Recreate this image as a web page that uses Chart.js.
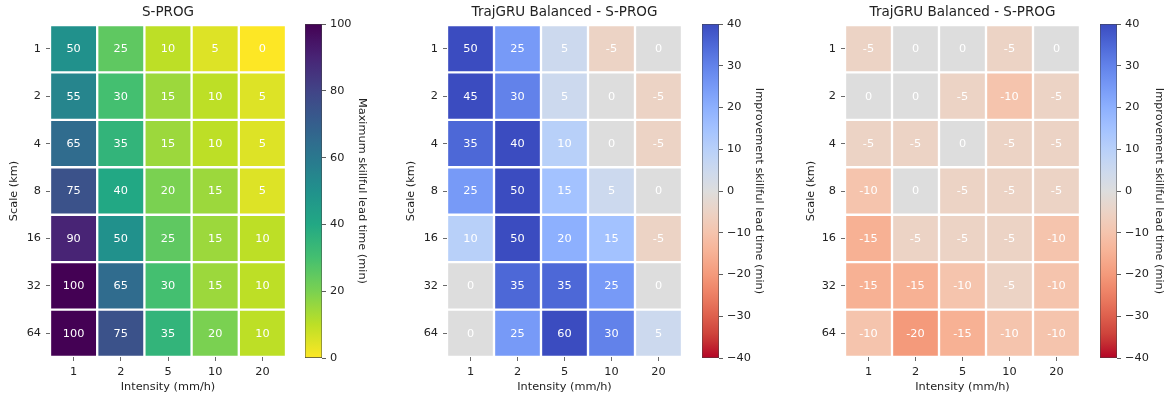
<!DOCTYPE html>
<html>
<head>
<meta charset="utf-8">
<script src="https://cdn.jsdelivr.net/npm/chart.js@4.4.1/dist/chart.umd.min.js"></script>
<style>
  html, body { margin: 0; padding: 0; background: #fff; }
  #wrap { position: relative; width: 1168px; height: 398px; overflow: hidden; }
  canvas { position: absolute; top: 0; }
</style>
</head>
<body>
<div id="wrap">
  <canvas id="hm1"></canvas>
  <canvas id="cb1"></canvas>
  <canvas id="hm2"></canvas>
  <canvas id="cb2"></canvas>
  <canvas id="hm3"></canvas>
  <canvas id="cb3"></canvas>
</div>
<script>
const intensities = ['1', '2', '5', '10', '20'];
const scalesKm = ['1', '2', '4', '8', '16', '32', '64'];

// rows = scale (km), cols = intensity (mm/h)
const sprogLead = [
  [50, 25, 10, 5, 0],
  [55, 30, 15, 10, 5],
  [65, 35, 15, 10, 5],
  [75, 40, 20, 15, 5],
  [90, 50, 25, 15, 10],
  [100, 65, 30, 15, 10],
  [100, 75, 35, 20, 10]
];
const balancedGainA = [
  [50, 25, 5, -5, 0],
  [45, 30, 5, 0, -5],
  [35, 40, 10, 0, -5],
  [25, 50, 15, 5, 0],
  [10, 50, 20, 15, -5],
  [0, 35, 35, 25, 0],
  [0, 25, 60, 30, 5]
];
const balancedGainB = [
  [-5, 0, 0, -5, 0],
  [0, 0, -5, -10, -5],
  [-5, -5, 0, -5, -5],
  [-10, 0, -5, -5, -5],
  [-15, -5, -5, -5, -10],
  [-15, -15, -10, -5, -10],
  [-10, -20, -15, -10, -10]
];
const leadTicks = [0, 20, 40, 60, 80, 100];
const gainTicks = [-40, -30, -20, -10, 0, 10, 20, 30, 40];

const FONT = "'DejaVu Sans', sans-serif";
Chart.defaults.font.family = FONT;
Chart.defaults.color = '#222';

// colormaps
const viridis = ['#440154', '#482475', '#414487', '#355f8d', '#2a788e', '#21918c',
  '#22a884', '#44bf70', '#7ad151', '#bddf26', '#fde725'];
const coolwarm = [
  [59, 76, 192], [77, 104, 215], [98, 130, 234], [119, 154, 247], [141, 176, 254],
  [163, 194, 255], [184, 208, 249], [204, 217, 238], [221, 221, 221], [236, 211, 197],
  [245, 196, 173], [247, 177, 148], [244, 154, 123], [236, 127, 99], [222, 96, 77],
  [203, 62, 56], [180, 4, 38]
];
function hexRgb(h) {
  return [1, 3, 5].map(i => parseInt(h.slice(i, i + 2), 16));
}
const viridisRgb = viridis.map(hexRgb);
function sample(stops, t) {
  t = Math.min(1, Math.max(0, t));
  const f = t * (stops.length - 1);
  const i = Math.min(stops.length - 2, Math.floor(f));
  const k = f - i;
  const c = stops[i].map((v, n) => Math.round(v + (stops[i + 1][n] - v) * k));
  return 'rgb(' + c.join(',') + ')';
}
const leadColor = v => sample(viridisRgb, 1 - v / 100);
const gainColor = v => sample(coolwarm, 1 - (v + 40) / 80);

const cellText = {
  id: 'cellText',
  afterDatasetsDraw(chart) {
    const ctx = chart.ctx;
    ctx.save();
    ctx.font = '11.3px ' + FONT;
    ctx.fillStyle = '#fff';
    ctx.textAlign = 'center';
    ctx.textBaseline = 'middle';
    chart.data.datasets.forEach((ds, d) => {
      chart.getDatasetMeta(d).data.forEach((bar, j) => {
        const p = bar.getProps(['x', 'y', 'base'], true);
        ctx.fillText(String(ds.cellValues[j]), p.x, (p.y + p.base) / 2 + 0.5);
      });
    });
    ctx.restore();
  }
};

const tickFont = { size: 11.3 };

function heatmap(id, left, width, yWidth, title, values, colorOf) {
  const canvas = document.getElementById(id);
  canvas.width = width;
  canvas.height = 398;
  canvas.style.left = left + 'px';
  const datasets = values.map((row, r) => ({
    data: row.map(() => [r - 0.5, r + 0.5]),
    cellValues: row,
    backgroundColor: row.map(colorOf),
    borderColor: '#fff',
    borderWidth: 1.5,
    borderSkipped: false,
    grouped: false,
    barPercentage: 1,
    categoryPercentage: 1
  }));
  new Chart(canvas, {
    type: 'bar',
    data: { labels: intensities, datasets: datasets },
    plugins: [cellText],
    options: {
      responsive: false,
      animation: false,
      events: [],
      layout: { padding: { top: 0, right: 4, bottom: 0, left: 0 } },
      plugins: {
        legend: { display: false },
        tooltip: { enabled: false },
        title: {
          display: true, text: title, color: '#222', fullSize: false,
          font: { size: 13.5, weight: 'normal' },
          padding: { top: 4, bottom: 4.8 }
        }
      },
      scales: {
        x: {
          grid: { drawOnChartArea: false, drawTicks: true, tickLength: 4, offset: false, color: '#444', lineWidth: 0.8 },
          border: { display: false },
          ticks: { font: tickFont, padding: 4, color: '#222' },
          title: { display: true, text: 'Intensity (mm/h)', font: tickFont, color: '#222', padding: { top: 2, bottom: 4.2 } },
          afterFit: s => { s.height = 41; }
        },
        y: {
          reverse: true,
          min: -0.5,
          max: scalesKm.length - 0.5,
          afterBuildTicks: s => { s.ticks = scalesKm.map((_, i) => ({ value: i })); },
          grid: { drawOnChartArea: false, drawTicks: true, tickLength: 4, color: '#444', lineWidth: 0.8 },
          border: { display: false },
          ticks: { font: tickFont, padding: 5, color: '#222', callback: v => scalesKm[v] },
          title: { display: true, text: 'Scale (km)', font: tickFont, color: '#222', padding: { top: 7, bottom: 0 } },
          afterFit: s => { s.width = yWidth; }
        }
      }
    }
  });
}

function colorbar(id, left, label, min, max, ticks, colorOf, titlePad, fmt) {
  const canvas = document.getElementById(id);
  canvas.width = 67;
  canvas.height = 398;
  canvas.style.left = left + 'px';
  new Chart(canvas, {
    type: 'bar',
    data: {
      labels: [''],
      datasets: [{
        data: [[min, max]],
        backgroundColor: (c) => {
          const area = c.chart.chartArea;
          if (!area) return null;
          const g = c.chart.ctx.createLinearGradient(0, area.bottom, 0, area.top);
          for (let i = 0; i <= 40; i++) {
            g.addColorStop(i / 40, colorOf(min + (max - min) * i / 40));
          }
          return g;
        },
        borderColor: '#444',
        borderWidth: 0.8,
        borderSkipped: false,
        barPercentage: 1,
        categoryPercentage: 1
      }]
    },
    options: {
      responsive: false,
      animation: false,
      events: [],
      layout: { padding: { top: 24, right: 0, bottom: 40, left: 0 } },
      plugins: { legend: { display: false }, tooltip: { enabled: false } },
      scales: {
        x: { display: false },
        y: {
          position: 'right',
          min: min,
          max: max,
          afterBuildTicks: s => { s.ticks = ticks.map(v => ({ value: v })); },
          grid: { drawOnChartArea: false, drawTicks: true, tickLength: 4, color: '#333', lineWidth: 0.8 },
          border: { display: false },
          ticks: { font: tickFont, padding: 4, color: '#222', callback: fmt },
          title: { display: true, text: label, font: tickFont, color: '#222', padding: { top: titlePad, bottom: 0 } },
          afterFit: s => { s.width = 50; }
        }
      }
    }
  });
}

const minusFmt = v => (v < 0 ? '\u2212' + Math.abs(v) : String(v));

heatmap('hm1', 0, 290, 50, 'S-PROG', sprogLead, leadColor);
colorbar('cb1', 305, 'Maximum skillful lead time (min)', 0, 100, leadTicks, leadColor, 3, minusFmt);

heatmap('hm2', 397, 289, 50, 'TrajGRU Balanced - S-PROG', balancedGainA, gainColor);
colorbar('cb2', 702, 'Improvement skillful lead time (min)', -40, 40, gainTicks, gainColor, 3, minusFmt);

heatmap('hm3', 797, 287, 48, 'TrajGRU Balanced - S-PROG', balancedGainB, gainColor);
colorbar('cb3', 1100, 'Improvement skillful lead time (min)', -40, 40, gainTicks, gainColor, 1, minusFmt);
</script>
</body>
</html>
